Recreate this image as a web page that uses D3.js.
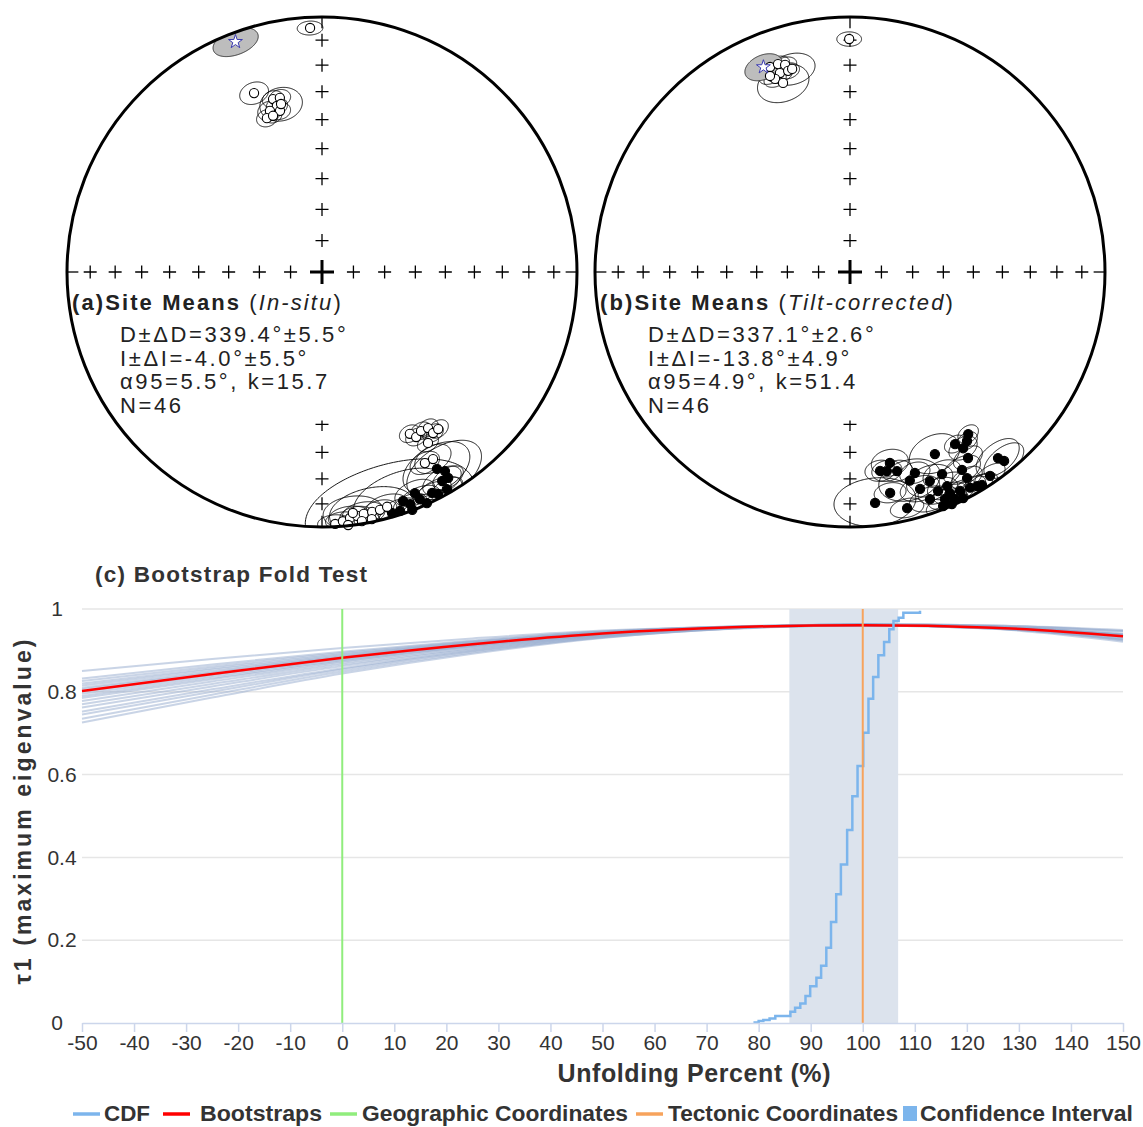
<!DOCTYPE html>
<html>
<head>
<meta charset="utf-8">
<title>Site means and bootstrap fold test</title>
<script src="https://cdnjs.cloudflare.com/ajax/libs/d3/7.8.5/d3.min.js"></script>
<style>
  body { margin: 0; background: #fff; }
  svg { display: block; font-family: "Liberation Sans", Arial, Helvetica, sans-serif; }
</style>
</head>
<body>
<svg id="fig" width="1143" height="1127"></svg>
<script>
// ---------- site means, in-situ (declination, inclination, alpha95) ----------
const insituDec = [357.2, 339.2, 344.2, 346.4, 344.8, 342.1, 345.4, 340.3, 342.6, 346.3,
                   151.5, 150.3, 148.1, 145.8, 145.4, 143.5, 148.2, 151.7, 149.3, 149.7,
                   150.1, 148.5, 150.1, 157.2, 153.5, 156.7, 160.5, 159.2, 155.6, 161.9,
                   159.2, 152.4, 163.8, 148.3, 177.0, 175.2, 173.5, 171.8, 170.2, 168.2,
                   166.3, 164.5, 174.1, 170.9, 168.6, 172.7];
const insituInc = [-4.7, -25.9, -30.2, -30.4, -33.0, -34.0, -35.0, -36.1, -36.0, -32.7,
                   -28.6, -26.4, -27.4, -26.9, -24.3, -24.4, -22.2, -16.0, -15.8, 11.6,
                   6.1, 5.9, 2.0, 6.6, 3.6, 3.4, 5.3, 3.0, 0.5, 1.6,
                   0.3, 2.0, 1.8, 9.1, -1.2, -2.2, -3.3, -3.8, -4.2, -4.4,
                   -4.5, -5.0, -0.3, -1.2, -1.3, -5.3];
const insituA95 = [3, 4, 3, 3, 3, 3.5, 3, 3, 2.5, 6,
                   3, 3, 3, 3, 3, 3, 3, 4, 5, 9,
                   5, 4, 4, 5, 4, 5, 12, 4, 3, 5,
                   4, 6, 20, 10, 4, 4, 5, 4, 5, 10,
                   4, 5, 3, 4, 4, 7];

// ---------- site means, tilt-corrected ----------
const tiltDec = [359.8, 338.7, 340.9, 342.6, 340.6, 338.8, 342.9, 337.8, 340.5, 344.1,
                 143.9, 145.3, 148.6, 147.3, 147.6, 155.0, 140.8, 168.2, 171.4, 169.5,
                 166.7, 162.1, 155.5, 150.5, 150.4, 145.5, 162.1, 169.7, 155.6, 155.7,
                 153.3, 150.9, 149.3, 157.3, 155.2, 153.4, 173.8, 166.4, 156.3, 148.2,
                 158.1, 159.1, 160.6, 158.3, 141.5, 164.0];
const tiltInc = [-9.5, -14.8, -14.8, -16.0, -18.4, -19.9, -18.6, -18.1, -22.4, -18.3,
                 22.4, 20.5, 22.0, 19.0, 14.7, 22.3, 4.9, 24.5, 22.2, 21.7,
                 20.9, 18.3, 14.0, 11.8, 7.8, 3.4, 11.6, 13.0, 8.6, 5.4,
                 4.4, 3.6, 2.7, 4.0, 2.1, 1.0, 9.8, 5.3, 0.7, 2.0,
                 8.2, 13.3, 6.2, 1.4, 7.5, 16.0];
const tiltA95 = [3, 3, 3, 3, 3.5, 3, 3, 3, 7, 6,
                 3, 3, 3, 4, 4, 7, 5.5, 5, 4, 4,
                 4, 4, 5, 5, 4, 4, 5, 4, 5, 4,
                 4, 4, 4, 4, 3, 3, 10, 4, 3, 4,
                 5, 6, 5, 4, 6, 8];

// ---------- overall means: [in-situ, tilt-corrected] ----------
const meanDec = [339.4, 337.1];
const meanDeltaD = [5.5, 2.6];
const meanInc = [-4.0, -13.8];
const meanDeltaI = [5.5, 4.9];
const meanA95 = [5.5, 4.9];
const meanK = [15.7, 51.4];
const siteCount = [46, 46];

// ---------- bootstrap fold test ----------
const unfoldX = [-50, -25, 0, 25, 50, 75, 100, 125, 150];
const tauMean = [0.802, 0.843, 0.882, 0.915, 0.941, 0.956, 0.961, 0.955, 0.934];
const bootstrapTau = [
  [0.850, 0.879, 0.906, 0.929, 0.948, 0.958, 0.962, 0.954, 0.926],
  [0.832, 0.866, 0.897, 0.924, 0.946, 0.958, 0.962, 0.957, 0.938],
  [0.826, 0.861, 0.894, 0.922, 0.945, 0.957, 0.960, 0.955, 0.936],
  [0.820, 0.857, 0.891, 0.920, 0.944, 0.957, 0.963, 0.958, 0.941],
  [0.815, 0.853, 0.888, 0.919, 0.943, 0.957, 0.961, 0.953, 0.929],
  [0.810, 0.849, 0.886, 0.917, 0.942, 0.956, 0.962, 0.957, 0.939],
  [0.806, 0.846, 0.884, 0.916, 0.942, 0.956, 0.960, 0.954, 0.932],
  [0.800, 0.842, 0.881, 0.914, 0.941, 0.956, 0.962, 0.959, 0.946],
  [0.795, 0.838, 0.879, 0.913, 0.940, 0.956, 0.961, 0.956, 0.936],
  [0.790, 0.834, 0.876, 0.911, 0.939, 0.955, 0.963, 0.960, 0.949],
  [0.785, 0.830, 0.874, 0.910, 0.938, 0.955, 0.960, 0.953, 0.927],
  [0.778, 0.825, 0.870, 0.908, 0.937, 0.955, 0.962, 0.957, 0.937],
  [0.770, 0.819, 0.866, 0.905, 0.936, 0.954, 0.961, 0.955, 0.933],
  [0.762, 0.813, 0.862, 0.903, 0.935, 0.954, 0.963, 0.960, 0.947],
  [0.752, 0.806, 0.857, 0.900, 0.934, 0.953, 0.960, 0.953, 0.924],
  [0.745, 0.800, 0.854, 0.898, 0.932, 0.953, 0.962, 0.957, 0.938],
  [0.735, 0.793, 0.849, 0.895, 0.931, 0.953, 0.961, 0.956, 0.935],
  [0.726, 0.786, 0.844, 0.892, 0.930, 0.952, 0.960, 0.952, 0.921]
];
const cdfX = [79.0, 80.0, 80.9, 82.1, 83.2, 86.1, 87.0, 88.0, 89.0, 89.9, 91.1, 92.0, 93.0,
              93.9, 94.9, 95.8, 97.0, 98.0, 99.0, 100.1, 101.1, 102.0, 103.0, 104.1,
              105.1, 105.9, 106.9, 107.8, 111.0];
const cdfY = [0.001, 0.005, 0.007, 0.011, 0.017, 0.027, 0.037, 0.047, 0.065, 0.089, 0.109,
              0.138, 0.182, 0.244, 0.311, 0.383, 0.466, 0.548, 0.621, 0.701, 0.783, 0.836,
              0.888, 0.920, 0.951, 0.971, 0.979, 0.991, 0.996];
const ciBounds = [85.9, 106.8];
const geographicAt = 0;
const tectonicAt = 100;
const xTicks = d3.range(-50, 151, 10);
const yTicks = [0, 0.2, 0.4, 0.6, 0.8, 1];

const svg = d3.select('#fig');
svg.append('rect').attr('width', 1143).attr('height', 1127).attr('fill', '#fff');

// ================= stereonets =================
function drawNet(cx, cy, R, decs, incs, a95s, k, titleBits, textX) {
  const proj = d3.geoAzimuthalEqualArea()
    .rotate([0, -90])
    .scale(R / Math.SQRT2)
    .translate([cx, cy])
    .clipAngle(90)
    .precision(0.2);
  const path = d3.geoPath(proj);
  // declination clockwise from north, |inclination| as latitude
  const geo = (dec, inc) => [180 - dec, Math.abs(inc)];
  const g = svg.append('g');

  // crosses every 10 degrees along the cardinal directions
  const ticks = g.append('g').attr('stroke', '#000').attr('stroke-width', 1.3).attr('fill', 'none');
  [0, 90, 180, 270].forEach(az => {
    d3.range(10, 90, 10).forEach(inc => {
      const [x, y] = proj(geo(az, inc));
      ticks.append('path').attr('d', `M${x - 6.5},${y}H${x + 6.5}M${x},${y - 6.5}V${y + 6.5}`);
    });
    const a = proj(geo(az, 0)), b = proj(geo(az, 5));
    ticks.append('line').attr('x1', a[0]).attr('y1', a[1]).attr('x2', b[0]).attr('y2', b[1]);
  });
  g.append('path')
    .attr('d', `M${cx - 12},${cy}H${cx + 12}M${cx},${cy - 12}V${cy + 12}`)
    .attr('stroke', '#000').attr('stroke-width', 3);

  const sites = decs.map((d, i) => ({ dec: d, inc: incs[i], a95: a95s[i] }));

  // alpha95 cones
  g.append('g').selectAll('path').data(sites).join('path')
    .attr('d', d => path(d3.geoCircle().center(geo(d.dec, d.inc)).radius(d.a95).precision(2)()))
    .attr('fill', 'none').attr('stroke', '#000').attr('stroke-width', 0.9);

  // mean direction
  const mean = { dec: meanDec[k], inc: meanInc[k], a95: meanA95[k] };
  g.append('path')
    .attr('d', path(d3.geoCircle().center(geo(mean.dec, mean.inc)).radius(mean.a95).precision(2)()))
    .attr('fill', '#bdbdbd').attr('stroke', '#333').attr('stroke-width', 1);

  // site symbols: filled = lower hemisphere, open = upper hemisphere
  g.append('g').selectAll('circle').data(sites).join('circle')
    .attr('cx', d => proj(geo(d.dec, d.inc))[0])
    .attr('cy', d => proj(geo(d.dec, d.inc))[1])
    .attr('r', 4.6)
    .attr('fill', d => d.inc >= 0 ? '#000' : '#fff')
    .attr('stroke', '#000').attr('stroke-width', 1.1);

  const mp = proj(geo(mean.dec, mean.inc));
  g.append('path')
    .attr('d', d3.symbol(d3.symbolStar, 60)())
    .attr('transform', `translate(${mp[0]},${mp[1]})`)
    .attr('fill', '#fff').attr('stroke', '#3b3bb0').attr('stroke-width', 1);

  // statistics block on a white box
  const tg = g.append('g').attr('fill', '#222').attr('font-size', 22);
  const t0 = tg.append('text').attr('x', textX).attr('y', 310).style('letter-spacing', '2.1px');
  t0.append('tspan').attr('font-weight', 'bold').text(titleBits[0]);
  t0.append('tspan').text(' (');
  t0.append('tspan').attr('font-style', 'italic').text(titleBits[1]);
  t0.append('tspan').text(')');
  const lines = [
    `D±ΔD=${meanDec[k].toFixed(1)}°±${meanDeltaD[k].toFixed(1)}°`,
    `I±ΔI=${meanInc[k].toFixed(1)}°±${meanDeltaI[k].toFixed(1)}°`,
    `α95=${meanA95[k].toFixed(1)}°, k=${meanK[k].toFixed(1)}`,
    `N=${siteCount[k]}`
  ];
  lines.forEach((s, i) => {
    tg.append('text').attr('x', textX + 48).attr('y', 342 + i * 23.5)
      .style('letter-spacing', '2.6px').text(s);
  });
  const bb = tg.node().getBBox();
  g.insert('rect', () => tg.node())
    .attr('x', bb.x).attr('y', bb.y + 2).attr('width', bb.width).attr('height', bb.height + 1)
    .attr('fill', '#fff');

  // primitive circle
  g.append('circle').attr('cx', cx).attr('cy', cy).attr('r', R)
    .attr('fill', 'none').attr('stroke', '#000').attr('stroke-width', 3);
}

drawNet(322, 272, 255, insituDec, insituInc, insituA95, 0, ['(a)Site Means', 'In-situ'], 72);
drawNet(850, 272, 255, tiltDec, tiltInc, tiltA95, 1, ['(b)Site Means', 'Tilt-corrected'], 600);

// ================= bootstrap fold test =================
const x = d3.scaleLinear().domain([-50, 150]).range([82, 1123]);
const y = d3.scaleLinear().domain([0, 1]).range([1023, 609]);
const chart = svg.append('g');

chart.append('text')
  .attr('x', 95).attr('y', 582)
  .attr('font-size', 22.5).attr('font-weight', 'bold').attr('fill', '#333')
  .attr('textLength', 272).attr('lengthAdjust', 'spacing')
  .text('(c) Bootstrap Fold Test');

// grid
chart.append('g').selectAll('line').data(yTicks.filter(v => v > 0)).join('line')
  .attr('x1', x(-50)).attr('x2', x(150))
  .attr('y1', d => y(d)).attr('y2', d => y(d))
  .attr('stroke', '#e6e6e6').attr('stroke-width', 1.5);

// confidence interval band
chart.append('rect')
  .attr('x', x(ciBounds[0])).attr('width', x(ciBounds[1]) - x(ciBounds[0]))
  .attr('y', y(1)).attr('height', y(0) - y(1))
  .attr('fill', '#dce3ed');

const line = d3.line().x((d, i) => x(unfoldX[i])).y(d => y(d)).curve(d3.curveMonotoneX);

chart.append('g').selectAll('path').data(bootstrapTau).join('path')
  .attr('d', line)
  .attr('fill', 'none').attr('stroke', '#93aacd').attr('stroke-opacity', 0.5).attr('stroke-width', 2);

chart.append('path').datum(tauMean).attr('d', line)
  .attr('fill', 'none').attr('stroke', '#ff0000').attr('stroke-width', 2.5);

const cdfLine = d3.line().x((d, i) => x(cdfX[i])).y(d => y(d)).curve(d3.curveStepAfter);
chart.append('path').datum(cdfY).attr('d', cdfLine)
  .attr('fill', 'none').attr('stroke', '#7cb5ec').attr('stroke-width', 2.5);

// reference lines
[[geographicAt, '#90ed7d'], [tectonicAt, '#f7a35c']].forEach(([v, c]) => {
  chart.append('line')
    .attr('x1', x(v)).attr('x2', x(v)).attr('y1', y(1)).attr('y2', y(0))
    .attr('stroke', c).attr('stroke-width', 2);
});

// axes
const xAxis = chart.append('g').attr('transform', `translate(0,${y(0)})`)
  .call(d3.axisBottom(x).tickValues(xTicks).tickSize(9).tickSizeOuter(0).tickPadding(3)
    .tickFormat(d => String(d)));
xAxis.select('.domain').attr('stroke', '#ccd6eb').attr('stroke-width', 1.5);
xAxis.selectAll('.tick line').attr('stroke', '#ccd6eb').attr('stroke-width', 1.5);
xAxis.selectAll('text').attr('font-size', 21).attr('fill', '#333')
  .attr('font-family', '"Liberation Sans", Arial, sans-serif');

const yAxis = chart.append('g').attr('transform', `translate(${x(-50)},0)`)
  .call(d3.axisLeft(y).tickValues(yTicks).tickSize(0).tickFormat(d => String(d)));
yAxis.select('.domain').remove();
yAxis.selectAll('text')
  .attr('x', d => Number.isInteger(d) ? -25 : -20)
  .attr('text-anchor', 'middle')
  .attr('font-size', 21).attr('fill', '#333')
  .attr('font-family', '"Liberation Sans", Arial, sans-serif');

chart.append('text')
  .attr('transform', 'translate(31,812) rotate(-90)')
  .attr('text-anchor', 'middle')
  .attr('font-size', 23).attr('font-weight', 'bold').attr('fill', '#333')
  .attr('textLength', 345).attr('lengthAdjust', 'spacing')
  .text('τ1 (maximum eigenvalue)');

chart.append('text')
  .attr('x', 694).attr('y', 1082)
  .attr('text-anchor', 'middle')
  .attr('font-size', 25).attr('font-weight', 'bold').attr('fill', '#333')
  .attr('textLength', 273).attr('lengthAdjust', 'spacing')
  .text('Unfolding Percent (%)');

// legend
const legendItems = [
  { label: 'CDF', color: '#7cb5ec', kind: 'line', sx: 73, tx: 104, tw: 46 },
  { label: 'Bootstraps', color: '#ff0000', kind: 'line', sx: 163, tx: 200, tw: 122 },
  { label: 'Geographic Coordinates', color: '#90ed7d', kind: 'line', sx: 330, tx: 362, tw: 266 },
  { label: 'Tectonic Coordinates', color: '#f7a35c', kind: 'line', sx: 636, tx: 668, tw: 230 },
  { label: 'Confidence Interval', color: '#7cb5ec', kind: 'box', sx: 903, tx: 920, tw: 213 }
];
const lg = chart.append('g');
legendItems.forEach(it => {
  if (it.kind === 'line') {
    lg.append('line').attr('x1', it.sx).attr('x2', it.sx + 27).attr('y1', 1114).attr('y2', 1114)
      .attr('stroke', it.color).attr('stroke-width', 3.5);
  } else {
    lg.append('rect').attr('x', it.sx).attr('y', 1106).attr('width', 14).attr('height', 15)
      .attr('fill', it.color);
  }
  lg.append('text').attr('x', it.tx).attr('y', 1121)
    .attr('font-size', 22).attr('font-weight', 'bold').attr('fill', '#333')
    .attr('textLength', it.tw).attr('lengthAdjust', 'spacingAndGlyphs')
    .text(it.label);
});
</script>
</body>
</html>
